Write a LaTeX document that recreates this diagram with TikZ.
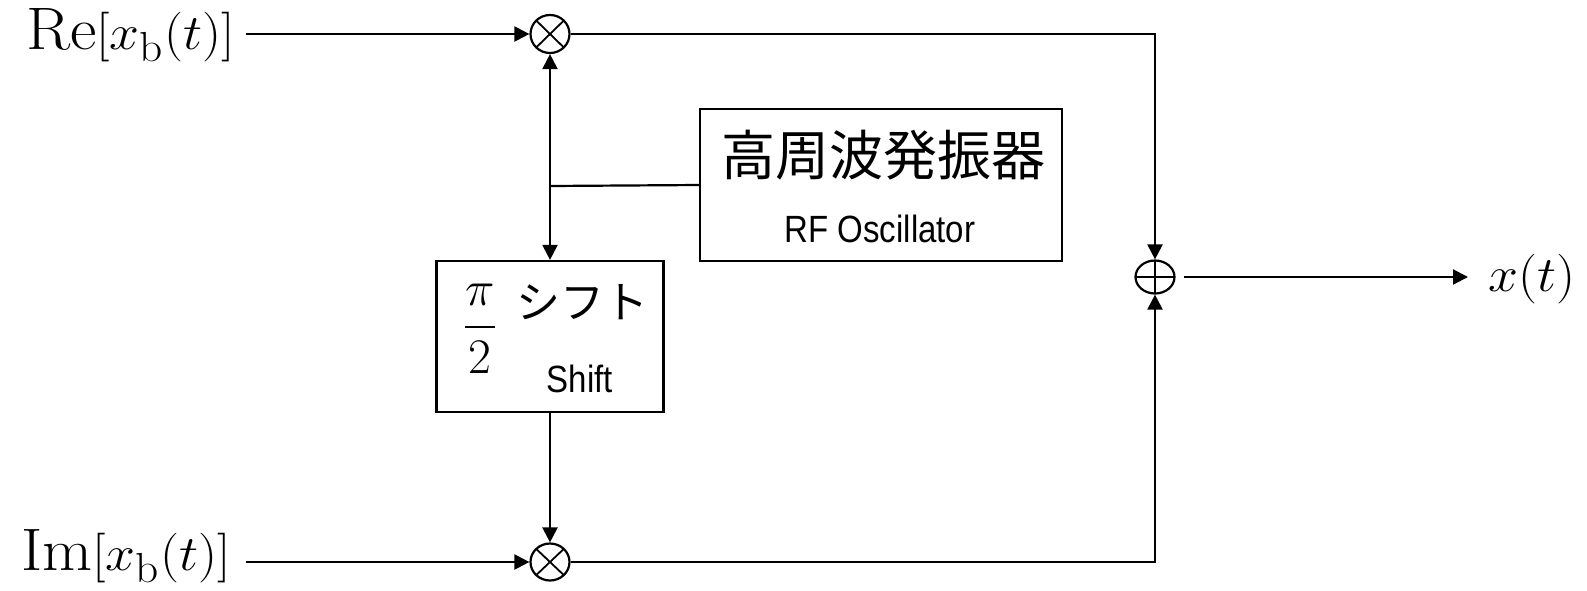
\documentclass[tikz,border=0pt]{standalone}
\usepackage{fontspec}
\usepackage{amsmath}
\newfontfamily\jpfont{Noto Sans CJK JP}
\newfontfamily\arialfont{Liberation Sans}
\usetikzlibrary{arrows.meta,shapes.geometric}
\begin{document}
\begin{tikzpicture}[x=0.5pt,y=-0.5pt,
  conn/.style={line width=1.1pt},
  arr/.style={conn,-{Triangle[length=7.5pt,width=7.5pt]}},
  blk/.style={draw,line width=1.1pt,inner sep=0pt},
  mathlbl/.style={inner sep=0pt,font=\fontsize{30}{34}\selectfont},
  mult/.style={draw,ellipse,line width=1.1pt,inner sep=0pt,minimum width=19.5pt,minimum height=19pt,
    path picture={\draw[line width=0.9pt] (path picture bounding box.north west)--(path picture bounding box.south east)
      (path picture bounding box.north east)--(path picture bounding box.south west);}},
  addr/.style={draw,ellipse,line width=1.1pt,inner sep=0pt,minimum width=19.5pt,minimum height=16.5pt,
    path picture={\draw[line width=0.9pt] (path picture bounding box.north)--(path picture bounding box.south)
      (path picture bounding box.west)--(path picture bounding box.east);}},
  jptext/.style={inner sep=0pt,font=\jpfont\fontsize{#1}{#1}\selectfont},
  entext/.style={inner sep=0pt,font=\arialfont\fontsize{16.5}{20}\selectfont}
]
\useasboundingbox (0,0) rectangle (1587,590);

% operators
\node[mult] (m1) at (550,34) {};
\node[mult,minimum height=18.5pt] (m2) at (550,562) {};
\node[addr] (sum) at (1155,277) {};

% blocks
\node[blk,minimum width=181pt,minimum height=76pt] (rf) at (881,185) {};
\node[blk,minimum width=113.5pt,minimum height=75.5pt] (sh) at (550,336.5) {};
\coordinate (j) at (550,186);

% block texts
\node[jptext=27] (rfjp) at (883,155) {高周波発振器};
\node[entext] (rfen) at (880,229) {\scalebox{1}[1.15]{RF Oscillator}};
\node[jptext=22] (shjp) at (582,302) {シフト};
\node[entext] (shen) at (580,379) {\scalebox{1}[1.15]{Shift}};
\node[inner sep=0pt,font=\fontsize{25}{30}\selectfont] (pi) at (480,329) {$\dfrac{\pi}{2}$};

% signal labels
\node[mathlbl,anchor=base east] (re) at (235,49) {\scalebox{1.08}[1]{$\mathrm{Re}[x_{\mathrm{b}}(t)]$}};
\node[mathlbl,anchor=base east] (im) at (231,570) {\scalebox{1.08}[1]{$\mathrm{Im}[x_{\mathrm{b}}(t)]$}};
\node[mathlbl,anchor=base west] (xt) at (1488,291) {\scalebox{1.08}[1]{$x(t)$}};

% connectors
\draw[arr] ([xshift=5.5pt]re.east |- m1.west) -- (m1.west);
\draw[arr] ([xshift=7.5pt]im.east |- m2.west) -- (m2.west);
\draw[arr] (j) -- (m1.south);
\draw[arr] (j) -- (sh.north);
\draw[conn] (j) -- (rf.west);
\draw[arr] (sh.south) -- (m2.north);
\draw[arr] (m1.east) -| (sum.north);
\draw[arr] (m2.east) -| (sum.south);
\draw[arr,shorten >=10pt] ([xshift=4pt]sum.east) -- (xt.west |- sum.east);
\end{tikzpicture}
\end{document}
